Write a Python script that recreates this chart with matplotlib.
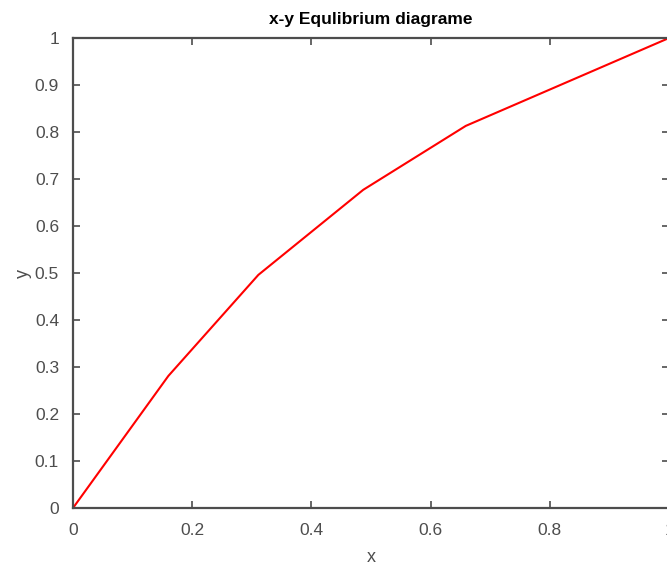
import matplotlib.pyplot as plt

plt.rcParams['font.family'] = ['Liberation Sans', 'DejaVu Sans']

# liquid / vapour mole fractions
x = [0, 0.16, 0.311, 0.487, 0.659, 1.0]
y = [0, 0.281, 0.496, 0.677, 0.813, 1.0]

xticks = [0, 0.2, 0.4, 0.6, 0.8, 1.0]
yticks = [0, 0.1, 0.2, 0.3, 0.4, 0.5, 0.6, 0.7, 0.8, 0.9, 1.0]

fig = plt.figure(figsize=(6.67, 5.67), dpi=100)
ax = fig.add_axes([73 / 667, 59 / 567, 596 / 667, 470 / 567])

ax.plot(x, y, color='red', linewidth=1.5)

ax.set_xlim(0, 1)
ax.set_ylim(0, 1)
ax.set_xticks(xticks)
ax.set_yticks(yticks)
ax.set_xticklabels(['0', '0.2', '0.4', '0.6', '0.8', '1'])
ax.set_yticklabels(['0', '0.1', '0.2', '0.3', '0.4', '0.5', '0.6', '0.7', '0.8', '0.9', '1'])

grey = '#4d4d4d'
for s in ax.spines.values():
    s.set_color(grey)
    s.set_linewidth(1.6)
ax.tick_params(direction='in', top=True, right=True, length=5, width=1.2,
               color=grey, labelcolor=grey, labelsize=12.5)
ax.tick_params(axis='x', pad=11)
ax.tick_params(axis='y', pad=10)

ax.set_title('x-y Equlibrium diagrame', fontsize=12.5, fontweight='bold', pad=10)
ax.set_xlabel('x', fontsize=13, color=grey, labelpad=8)
ax.set_ylabel('y', fontsize=13, color=grey, labelpad=2)

plt.savefig('out.png', dpi=100)
